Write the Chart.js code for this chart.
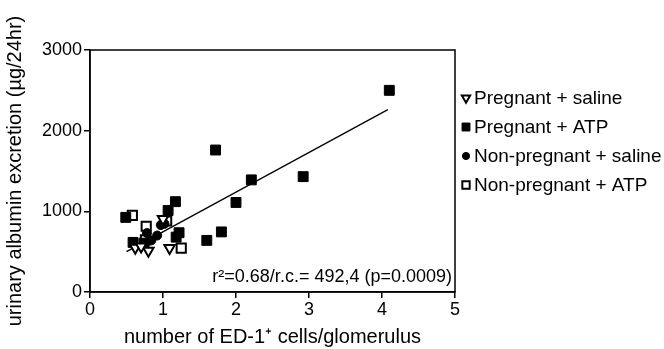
<!DOCTYPE html>
<html>
<head>
<meta charset="utf-8">
<script src="https://cdn.jsdelivr.net/npm/chart.js@4"></script>
<style>
    html, body { margin: 0; padding: 0; background: #fff; }
    #wrap { width: 664px; height: 349px; }
</style>
</head>
<body>
<div id="wrap"><canvas id="chart"></canvas></div>
<script>
const xTicks = [0, 1, 2, 3, 4, 5];
const yTicks = [0, 1000, 2000, 3000];
const seriesNames = ['Pregnant + saline', 'Pregnant + ATP', 'Non-pregnant + saline', 'Non-pregnant + ATP'];

// values
const pregSalineX = [1.09, 0.62, 0.80, 1.00, 0.70];
const pregSalineY = [545, 550, 510, 905, 565];
const pregAtpX = [4.10, 1.72, 2.21, 2.92, 2.00, 1.80, 1.60, 1.17, 1.07, 1.22, 1.18, 0.49, 0.59, 0.74];
const pregAtpY = [2500, 1760, 1390, 1430, 1110, 745, 640, 1120, 1010, 735, 680, 925, 615, 605];
const nonPregSalineX = [0.78, 0.84, 1.02, 0.92, 0.97];
const nonPregSalineY = [730, 640, 845, 700, 830];
const nonPregAtpX = [0.58, 0.77, 0.76, 1.25, 1.05];
const nonPregAtpY = [950, 815, 645, 545, 880];
const fitX = [0.5, 4.08];
const fitY = [500, 2260];
const statsText = 'r\u00b2=0.68/r.c.= 492,4 (p=0.0009)';

const FONT = 'Liberation Sans, Arial, Helvetica, sans-serif';

function pts(xs, ys) {
    return xs.map((x, i) => ({ x: x, y: ys[i] }));
}

const markers = [
    { pointStyle: 'triangle', rotation: 180, radius: 6, fill: '#fff', border: '#000', width: 2 },
    { pointStyle: 'rect', rotation: 0, radius: 7, fill: '#000', border: '#000', width: 1 },
    { pointStyle: 'circle', rotation: 0, radius: 4.5, fill: '#000', border: '#000', width: 1 },
    { pointStyle: 'rect', rotation: 0, radius: 6.5, fill: '#fff', border: '#000', width: 2 }
];
const seriesData = [
    pts(pregSalineX, pregSalineY),
    pts(pregAtpX, pregAtpY),
    pts(nonPregSalineX, nonPregSalineY),
    pts(nonPregAtpX, nonPregAtpY)
];

const datasets = [{
    type: 'line',
    label: 'fit',
    data: pts(fitX, fitY),
    borderColor: '#000',
    borderWidth: 1.3,
    pointRadius: 0,
    fill: false,
    order: 10
}];
seriesNames.forEach((name, i) => {
    const m = markers[i];
    datasets.push({
        type: 'scatter',
        label: name,
        data: seriesData[i],
        pointStyle: m.pointStyle,
        rotation: m.rotation,
        pointRadius: m.radius,
        pointBackgroundColor: m.fill,
        pointBorderColor: m.border,
        pointBorderWidth: m.width,
        order: i
    });
});

// frame, legend and stats text
const extras = {
    id: 'extras',
    afterDraw(chart) {
        const ctx = chart.ctx;
        const a = chart.chartArea;
        ctx.save();
        ctx.strokeStyle = '#000';
        ctx.lineWidth = 1.5;
        ctx.strokeRect(a.left, a.top, a.right - a.left, a.bottom - a.top);

        ctx.fillStyle = '#000';
        ctx.font = '18px ' + FONT;
        ctx.textAlign = 'right';
        ctx.textBaseline = 'alphabetic';
        ctx.fillText(statsText, a.right - 3, a.bottom - 10);

        const rows = [98, 127, 156, 185];
        ctx.font = '19px ' + FONT;
        ctx.textAlign = 'left';
        ctx.textBaseline = 'middle';
        seriesNames.forEach((name, i) => {
            const m = markers[i];
            ctx.fillStyle = m.fill;
            ctx.strokeStyle = m.border;
            ctx.lineWidth = m.width;
            Chart.helpers.drawPoint(ctx, {
                pointStyle: m.pointStyle,
                rotation: m.rotation,
                radius: m.radius * 0.8,
                borderWidth: m.width
            }, a.right + 11, rows[i]);
            ctx.fillStyle = '#000';
            ctx.fillText(name, a.right + 19, rows[i] + 1);
        });
        ctx.restore();
    }
};

new Chart(document.getElementById('chart'), {
    data: { datasets: datasets },
    options: {
        responsive: true,
        maintainAspectRatio: false,
        animation: false,
        layout: { padding: { top: 50, right: 209, left: 0, bottom: 0 } },
        plugins: {
            legend: { display: false },
            tooltip: { enabled: false }
        },
        scales: {
            x: {
                type: 'linear',
                min: xTicks[0],
                max: xTicks[xTicks.length - 1],
                afterBuildTicks(axis) { axis.ticks = xTicks.map(v => ({ value: v })); },
                afterFit(axis) { axis.height = 57; },
                grid: { drawOnChartArea: false, color: '#000', lineWidth: 1.5, tickLength: 6 },
                border: { color: '#000', width: 1.5 },
                ticks: { color: '#000', padding: 1, font: { family: FONT, size: 18 } },
                title: {
                    display: true,
                    text: 'number of ED-1\u207a cells/glomerulus',
                    color: '#000',
                    padding: { top: 1, bottom: 0 },
                    font: { family: FONT, size: 20 }
                }
            },
            y: {
                type: 'linear',
                min: yTicks[0],
                max: yTicks[yTicks.length - 1],
                afterBuildTicks(axis) { axis.ticks = yTicks.map(v => ({ value: v })); },
                afterFit(axis) { axis.width = 90; },
                grid: { drawOnChartArea: false, color: '#000', lineWidth: 1.5, tickLength: 6 },
                border: { color: '#000', width: 1.5 },
                ticks: {
                    color: '#000',
                    padding: 2,
                    font: { family: FONT, size: 18 },
                    callback: v => String(v)
                },
                title: {
                    display: true,
                    text: 'urinary albumin excretion (\u00b5g/24hr)',
                    color: '#000',
                    padding: { top: 3, bottom: 0 },
                    font: { family: FONT, size: 20 }
                }
            }
        }
    },
    plugins: [extras]
});
</script>
</body>
</html>
